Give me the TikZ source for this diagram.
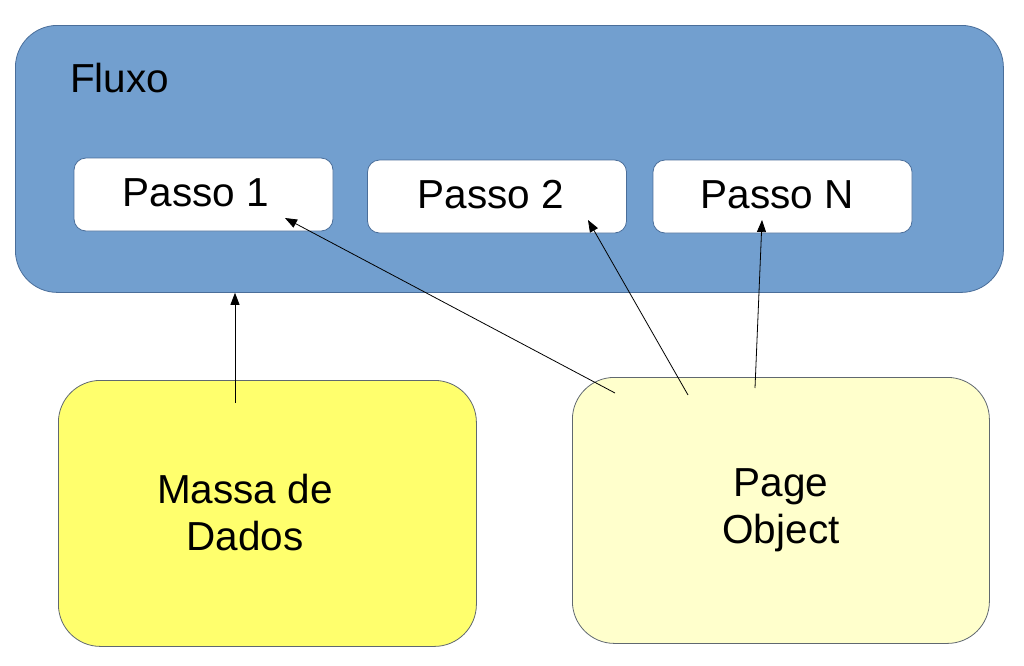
\documentclass[tikz,border=0pt]{standalone}
\usepackage{fontspec}
\setmainfont{Liberation Sans}
\usetikzlibrary{arrows.meta}
\definecolor{fluxofill}{HTML}{729FCF}
\definecolor{fluxoline}{HTML}{4A6E9A}
\definecolor{massafill}{HTML}{FFFF6D}
\definecolor{pagefill}{HTML}{FFFFCC}
\definecolor{boxline}{HTML}{606870}
\begin{document}
\begin{tikzpicture}[x=1pt,y=-1pt,
  bigbox/.style={draw=#1, line width=0.8pt, rounded corners=42pt, inner sep=0pt, anchor=north west},
  stepbox/.style={draw=fluxoline, fill=white, line width=0.8pt, rounded corners=12pt, inner sep=0pt,
    minimum width=259pt, minimum height=73pt},
  lbl/.style={font=\fontsize{40.5}{47}\selectfont, align=center, inner sep=0pt},
  arr/.style={-{Triangle[length=12pt,width=9pt]}, line width=0.8pt, black}]
\useasboundingbox (0,0) rectangle (1024,665);
% containers
\node[bigbox=fluxoline, fill=fluxofill, minimum width=988pt, minimum height=267pt] (fluxo) at (15,25) {};
\node[lbl, anchor=base west] (fluxolbl) at (70,92) {Fluxo};
\node[bigbox=boxline, fill=massafill, minimum width=418pt, minimum height=266pt] (massa) at (58,380) {};
\node[bigbox=boxline, fill=pagefill, minimum width=417pt, minimum height=266pt] (page) at (572,377) {};
\node[lbl] (massalbl) at (245,513) {Massa de\\Dados};
\node[lbl] (pagelbl) at (781,510) {Page\\Object};
% steps
\node[stepbox] (p1) at (203.5,194.5) {};
\node[stepbox] (p2) at (497,196.5) {};
\node[stepbox] (pn) at (782.5,196.5) {};
\node[lbl] (p1lbl) at (196,193) {Passo 1};
\node[lbl] (p2lbl) at (491,195) {Passo 2};
\node[lbl] (pnlbl) at (777,195) {Passo N};
% connector end points
\coordinate (s0) at (235,403);
\coordinate (t1) at (285,218);
\coordinate (s1) at (615,393);
\coordinate (t2) at (588,220);
\coordinate (s2) at (688,395);
\coordinate (tn) at (762,220);
\coordinate (sn) at (755,388);
\draw[arr] (s0) -- (fluxo.south -| s0);
\draw[arr] (s1) -- (t1);
\draw[arr] (s2) -- (t2);
\draw[arr] (sn) -- (tn);
\end{tikzpicture}
\end{document}
